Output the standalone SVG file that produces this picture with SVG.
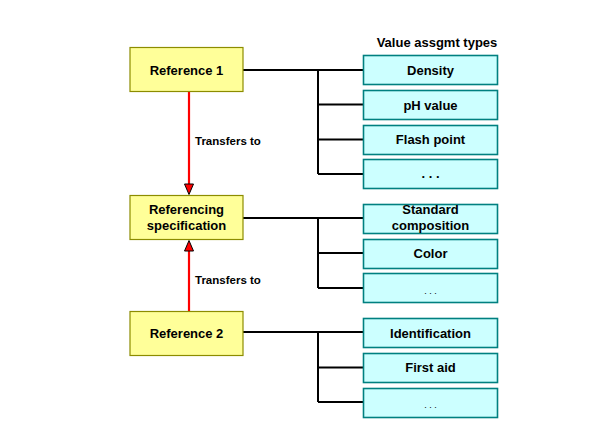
<svg xmlns="http://www.w3.org/2000/svg" width="595" height="446" viewBox="0 0 595 446">
<defs>
<style>
.ref{fill:#FFFF99;stroke:#8C8C00;stroke-width:1.2}
.val{fill:#CCFFFF;stroke:#008080;stroke-width:1.6}
.t{font-family:"Liberation Sans",Arial,sans-serif;font-weight:bold;font-size:13px;fill:#000;text-anchor:middle}
.lbl{font-family:"Liberation Sans",Arial,sans-serif;font-weight:bold;font-size:11.5px;fill:#000}
.dots{font-family:"Liberation Sans",Arial,sans-serif;font-size:9px;fill:#000;text-anchor:middle}
.con{stroke:#000;stroke-width:2;fill:none}
.arr{stroke:#FF0000;stroke-width:2.2;fill:none}
</style>
<marker id="ah" viewBox="0 0 10 11" refX="5" refY="11" markerUnits="userSpaceOnUse" markerWidth="10" markerHeight="11" orient="auto-start-reverse">
<path d="M0.5,0.5 L9.5,0.5 L5,10.5 Z" fill="#FF0000" stroke="#000" stroke-width="1"/>
</marker>
</defs>
<rect width="595" height="446" fill="#fff"/>
<text class="t" x="437" y="47">Value assgmt types</text>
<g id="connectors">
<path class="con" d="M243,70 H363 M318,70 V174 M318,104.5 H363 M318,139.5 H363 M318,174 H363"/>
<path class="con" d="M243,218 H363 M318,218 V288 M318,253 H363 M318,288 H363"/>
<path class="con" d="M243,332 H363 M318,332 V402 M318,367.5 H363 M318,402 H363"/>
<line class="arr" x1="189" y1="92" x2="189" y2="184"/>
<path d="M184.5,184 L193.5,184 L189,194.5 Z" fill="#FF0000" stroke="#000" stroke-width="1"/>
<line class="arr" x1="189" y1="311" x2="189" y2="251"/>
<path d="M184.5,251 L193.5,251 L189,240.5 Z" fill="#FF0000" stroke="#000" stroke-width="1"/>
<text class="lbl" x="195" y="144.5">Transfers to</text>
<text class="lbl" x="195" y="284">Transfers to</text>
</g>
<g id="ref1"><rect class="ref" x="130" y="47.5" width="113" height="44"/><text class="t" x="186.5" y="74.5">Reference 1</text></g>
<g id="refspec"><rect class="ref" x="130" y="195.5" width="113" height="44"/><text class="t" x="186.5" y="214">Referencing</text><text class="t" x="186.5" y="230">specification</text></g>
<g id="ref2"><rect class="ref" x="130" y="311.5" width="113" height="44"/><text class="t" x="186.5" y="338">Reference 2</text></g>
<g id="density"><rect class="val" x="363.5" y="55.5" width="134" height="29"/><text class="t" x="430.5" y="74.5">Density</text></g>
<g id="ph"><rect class="val" x="363.5" y="90.5" width="134" height="29"/><text class="t" x="430.5" y="109.5">pH value</text></g>
<g id="flash"><rect class="val" x="363.5" y="125.5" width="134" height="29"/><text class="t" x="430.5" y="144">Flash point</text></g>
<g id="more1"><rect class="val" x="363.5" y="159.5" width="134" height="29"/><text class="t" x="430.5" y="178">. . .</text></g>
<g id="stdcomp"><rect class="val" x="363.5" y="204.5" width="134" height="29"/><text class="t" x="430.5" y="214">Standard</text><text class="t" x="430.5" y="230">composition</text></g>
<g id="color"><rect class="val" x="363.5" y="239.5" width="134" height="29"/><text class="t" x="430.5" y="258">Color</text></g>
<g id="more2"><rect class="val" x="363.5" y="273.5" width="134" height="29"/><text class="dots" x="430.5" y="294">. . .</text></g>
<g id="ident"><rect class="val" x="363.5" y="318.5" width="134" height="29"/><text class="t" x="430.5" y="337.5">Identification</text></g>
<g id="firstaid"><rect class="val" x="363.5" y="353.5" width="134" height="29"/><text class="t" x="430.5" y="372">First aid</text></g>
<g id="more3"><rect class="val" x="363.5" y="388.5" width="134" height="29"/><text class="dots" x="430.5" y="408">. . .</text></g>
</svg>
